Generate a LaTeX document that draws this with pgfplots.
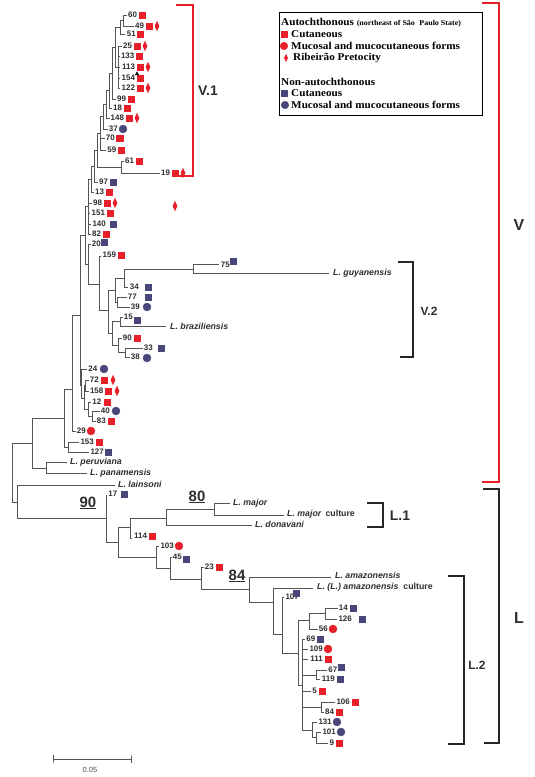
\documentclass[border=0pt]{standalone}
\usepackage{pgfplots}
\pgfplotsset{compat=1.18}
\usepackage{pgfplotstable}
\usepackage{fontspec}
\setmainfont{Liberation Sans}
\newfontfamily\lserif[FakeStretch=1.07]{Liberation Serif}
\definecolor{myred}{RGB}{232,32,42}
\definecolor{navy}{RGB}{72,70,122}
\definecolor{treec}{RGB}{85,85,85}
\definecolor{labc}{RGB}{45,45,45}
\pgfplotsset{
  tree/.style={color=treec, line width=0.9pt, mark=none},
  redbr/.style={color=myred, line width=1.6pt, mark=none},
  blkbr/.style={color=black!85, line width=1.5pt, mark=none},
  rsq/.style={only marks, mark=square*, mark size=3.3pt, color=myred, mark options={draw=myred, fill=myred}},
  rci/.style={only marks, mark=*, mark size=4pt, color=myred, mark options={draw=myred, fill=myred}},
  rdi/.style={only marks, mark=diamond*, mark size=4.6pt, color=myred, mark options={draw=myred, fill=myred, xscale=0.62}},
  nsq/.style={only marks, mark=square*, mark size=3.3pt, color=navy, mark options={draw=navy, fill=navy}},
  nci/.style={only marks, mark=*, mark size=4pt, color=navy, mark options={draw=navy, fill=navy}},
}
\pgfplotstableread{
x y lab
137.2 15 60
144.2 26 49
136 34 51
132.2 46 25
134.5 56 133
135.2 67 113
135.2 78 154
135.2 88 122
126.2 99 99
122.2 108 18
124.2 118 148
118 129 37
115 138 70
116.5 150 59
134.2 161 61
170.2 173 19
108.2 182 97
104.2 192 13
102.2 203 98
105.2 213 151
106 224 140
101.2 234 82
101 244 20
116.2 255 159
230 265 75
139 287 34
137 297 77
140 307 39
133 317 15
132 338 90
153 348 33
140 357 38
97.5 369 24
99 380 72
103.5 391 158
101.5 402 12
110 411 40
106 421 83
86 431 29
94 442 153
104 452 127
117.5 494 17
147.2 536 114
174 546 103
182 557 45
214 567 23
299 597 107
348 608 14
352 619 126
328 629 56
315.5 639 69
323 649 109
323 659 111
337.5 670 67
335 679 119
317 691 5
350 702 106
334.2 712 84
332 722 131
336 732 101
334.2 743 9
}\numlabels
\begin{document}
\begin{tikzpicture}
\begin{axis}[width=535bp,height=777bp,scale only axis,
  xmin=0,xmax=535,ymin=0,ymax=777,y dir=reverse,hide axis,clip=false]
\path (rel axis cs:0,0) rectangle (rel axis cs:1,1);
% ---------------- tree branches ----------------
\addplot[tree] coordinates {(127,15)(123,15)(123,26)(133.5,26)};
\addplot[tree] coordinates {(123,20)(120,20)(120,34)(125,34)};
\addplot[tree] coordinates {(122,46)(118,46)(118,88)(120.3,88)};
\addplot[tree] coordinates {(118,56)(119.5,56)};
\addplot[tree] coordinates {(118,67)(120.3,67)};
\addplot[tree] coordinates {(118,78)(120.3,78)};
\addplot[tree] coordinates {(120,27)(115,27)(115,67)(118,67)};
\addplot[tree] coordinates {(115,47)(112,47)(112,99)(116,99)};
\addplot[tree] coordinates {(112,73)(109,73)(109,108)(111.5,108)};
\addplot[tree] coordinates {(109,90)(106,90)(106,118)(109.5,118)};
\addplot[tree] coordinates {(106,104)(103,104)(103,129)(107.5,129)};
\addplot[tree] coordinates {(103,116)(100,116)(100,150)(106,150)};
\addplot[tree] coordinates {(100,138)(104.5,138)};
\addplot[tree] coordinates {(100,133)(97,133)(97,167)(121,167)};
\addplot[tree] coordinates {(123.8,161)(121,161)(121,173)(160,173)};
\addplot[tree] coordinates {(97,150)(94,150)(94,182)(97.8,182)};
\addplot[tree] coordinates {(94,166)(91,166)(91,192)(93.8,192)};
\addplot[tree] coordinates {(91,179)(88,179)(88,234)(90.8,234)};
\addplot[tree] coordinates {(88,203)(91.8,203)};
\addplot[tree] coordinates {(88,213)(90.3,213)};
\addplot[tree] coordinates {(88,224)(91,224)};
\addplot[tree] coordinates {(88,206)(85,206)(85,264)(88,264)};
\addplot[tree] coordinates {(90.5,244)(88,244)(88,284)(99,284)};
\addplot[tree] coordinates {(101.3,256)(99,256)(99,310)(108,310)};
\addplot[tree] coordinates {(115,290)(108,290)(108,333)(112,333)};
\addplot[tree] coordinates {(124,278)(115,278)(115,302)(117,302)};
\addplot[tree] coordinates {(193,269)(124,269)(124,287)(127.5,287)};
\addplot[tree] coordinates {(219,264)(193,264)(193,273)(329,273)};
\addplot[tree] coordinates {(126.5,297)(117,297)(117,307)(129.5,307)};
\addplot[tree] coordinates {(120,321)(112,321)(112,345)(118,345)};
\addplot[tree] coordinates {(122.5,317)(120,317)(120,326)(166,326)};
\addplot[tree] coordinates {(121.5,338)(118,338)(118,352)(125,352)};
\addplot[tree] coordinates {(142.5,348)(125,348)(125,357)(129.5,357)};
\addplot[tree] coordinates {(85,235)(80,235)(80,385)(81.5,385)};
\addplot[tree] coordinates {(87,369)(81.5,369)(81.5,398)(84,398)};
\addplot[tree] coordinates {(85.5,385)(84,385)(84,409)(88,409)};
\addplot[tree] coordinates {(88.5,380)(85.5,380)(85.5,391)(88.5,391)};
\addplot[tree] coordinates {(91,402)(88,402)(88,416)(92,416)};
\addplot[tree] coordinates {(99.5,411)(92,411)(92,421)(95.5,421)};
\addplot[tree] coordinates {(80,315)(72,315)(72,431)(75.5,431)};
\addplot[tree] coordinates {(72,389)(64,389)(64,447)(68,447)};
\addplot[tree] coordinates {(79,442)(68,442)(68,452)(89,452)};
\addplot[tree] coordinates {(64,418)(32,418)(32,468)(46,468)};
\addplot[tree] coordinates {(67,462)(46,462)(46,473)(87,473)};
\addplot[tree] coordinates {(32,443)(12,443)(12,502)(17,502)};
\addplot[tree] coordinates {(115,485)(17,485)(17,518)(106,518)};
\addplot[tree] coordinates {(107,495)(106,495)(106,542)(118,542)};
\addplot[tree] coordinates {(130,527)(118,527)(118,557)(156,557)};
\addplot[tree] coordinates {(166,518)(130,518)(130,538)(132.3,538)};
\addplot[tree] coordinates {(214,509)(166,509)(166,525)(252,525)};
\addplot[tree] coordinates {(230,503)(214,503)(214,515)(284,515)};
\addplot[tree] coordinates {(159,546)(156,546)(156,568)(170,568)};
\addplot[tree] coordinates {(171.5,557)(170,557)(170,579)(201,579)};
\addplot[tree] coordinates {(203.5,567)(201,567)(201,589)(249,589)};
\addplot[tree] coordinates {(331,577)(249,577)(249,602)(273,602)};
\addplot[tree] coordinates {(313,588)(273,588)(273,634)(282,634)};
\addplot[tree] coordinates {(284,597)(282,597)(282,653)(298,653)};
\addplot[tree] coordinates {(309,620)(298,620)(298,685)(302,685)};
\addplot[tree] coordinates {(325,613)(309,613)(309,629)(317.5,629)};
\addplot[tree] coordinates {(337.5,608)(325,608)(325,619)(337,619)};
\addplot[tree] coordinates {(305,639)(302,639)(302,730)(312,730)};
\addplot[tree] coordinates {(302,649)(308,649)};
\addplot[tree] coordinates {(302,659)(308,659)};
\addplot[tree] coordinates {(302,675)(316,675)};
\addplot[tree] coordinates {(302,691)(311,691)};
\addplot[tree] coordinates {(302,707)(321,707)};
\addplot[tree] coordinates {(327,670)(316,670)(316,679)(320,679)};
\addplot[tree] coordinates {(335,702)(321,702)(321,712)(323.8,712)};
\addplot[tree] coordinates {(317,722)(312,722)(312,737)(316,737)};
\addplot[tree] coordinates {(321,732)(316,732)(316,743)(328,743)};
% ---------------- leaf numbers ----------------
\addplot[draw=none, mark=none, nodes near coords, point meta=explicit symbolic,
  nodes near coords style={anchor=east, inner sep=0pt, font=\fontsize{8}{9}\selectfont\bfseries, text=labc}]
  table[x=x,y=y,meta=lab] {\numlabels};
% ---------------- species names ----------------
\addplot[draw=none, mark=none, nodes near coords, point meta=explicit symbolic,
  nodes near coords style={anchor=west, inner sep=0pt, font=\fontsize{8.8}{10}\selectfont\bfseries\itshape, text=labc}]
  coordinates {(333,273) [L. guyanensis] (170,326) [L. braziliensis] (70,462) [L. peruviana]
  (90,473) [L. panamensis] (118,484) [L. lainsoni] (233,503) [L. major] (255,524) [L. donavani]
  (335,575) [L. amazonensis]};
\node[anchor=west, inner sep=0pt, text=labc, font=\fontsize{8.8}{10}\selectfont\bfseries] at (axis cs:287,514) {\textit{L. major}\, culture};
\node[anchor=west, inner sep=0pt, text=labc, font=\fontsize{8.8}{10}\selectfont\bfseries] at (axis cs:317,587) {\textit{L. (L.) amazonensis}\; culture};
% ---------------- markers ----------------
\addplot[rsq] coordinates {(142,15)(149,26)(140,34)(137,46)(139,56)(140,67)(140,78)(140,88)(131,99)(127,108)(129,118)(119.5,138)(121,150)(139,161)(175,173)(109,192)(107,203)(110,213)(106,234)(121,255)(137,338)(104,380)(108,391)(107,402)(111,421)(99,442)(152,536)(219,567)(328,659)(322,691)(355,702)(339,712)(339,743)};
\addplot[rdi] coordinates {(157,26)(145,46)(148,67)(148,88)(137,118)(183,173)(115,203)(175,206)(113,380)(117,391)};
\addplot[rci] coordinates {(91,431)(179,546)(333,629)(328,649)};
\addplot[nsq] coordinates {(113,182)(113,224)(104,242)(233,261)(148,287)(148,297)(137,320)(161,348)(108,452)(124,494)(186,559)(296,593)(353,608)(362,619)(320,639)(341,667)(340,679)};
\addplot[nci] coordinates {(123,129)(147,307)(147,358)(104,369)(116,411)(337,722)(341,732)};
\addplot[only marks, mark=triangle*, mark size=2pt, color=black] coordinates {(137,74)};
% ---------------- brackets ----------------
\addplot[redbr] coordinates {(176,5)(193,5)(193,176)(176,176)};
\addplot[redbr] coordinates {(482,3)(499,3)(499,482)(482,482)};
\addplot[blkbr] coordinates {(483,489)(499,489)(499,743)(484,743)};
\addplot[blkbr, line width=1.1pt] coordinates {(398,262)(413,262)(413,357)(400,357)};
\addplot[blkbr, line width=1.1pt] coordinates {(367,503)(383,503)(383,527)(367,527)};
\addplot[blkbr, line width=1.2pt] coordinates {(448,576)(464,576)(464,744)(448,744)};
\node[font=\fontsize{14}{16}\selectfont\bfseries, text=labc] at (axis cs:208,91) {V.1};
\node[font=\fontsize{12}{14}\selectfont\bfseries, text=labc] at (axis cs:429,311) {V.2};
\node[font=\fontsize{16}{18}\selectfont\bfseries, text=labc] at (axis cs:519,225) {V};
\node[font=\fontsize{16}{18}\selectfont\bfseries, text=labc] at (axis cs:519,618) {L};
\node[font=\fontsize{14}{16}\selectfont\bfseries, text=labc] at (axis cs:400,516) {L.1};
\node[font=\fontsize{12}{14}\selectfont\bfseries, text=labc] at (axis cs:477,665) {L.2};
% ---------------- support values ----------------
\node[font=\fontsize{15}{17}\selectfont\bfseries, text=labc] at (axis cs:88,503) {\underline{90}};
\node[font=\fontsize{15}{17}\selectfont\bfseries, text=labc] at (axis cs:197,497) {\underline{80}};
\node[font=\fontsize{15}{17}\selectfont\bfseries, text=labc] at (axis cs:237,576) {\underline{84}};
% ---------------- scale bar ----------------
\addplot[tree, line width=0.8pt] coordinates {(53,755)(53,763)(53,759)(131,759)(131,755)(131,763)};
\node[font=\fontsize{7.5}{9}\selectfont, text=black!70] at (axis cs:90,770) {0.05};
% ---------------- legend ----------------
\addplot[color=black, line width=0.8pt, mark=none] coordinates {(279,12)(482,12)(482,115)(279,115)(279,12)};
\node[anchor=west, inner sep=0pt, font=\lserif\fontsize{10.5}{12}\selectfont\bfseries] at (axis cs:281,23) {Autochthonous {\fontsize{7.5}{9}\selectfont (northeast of São\,\, Paulo State)}};
\addplot[rsq, mark size=3pt] coordinates {(284,34)};
\addplot[rci, mark size=3.8pt] coordinates {(284,46)};
\addplot[rdi, mark size=3.6pt] coordinates {(286,58)};
\addplot[nsq, mark size=3pt] coordinates {(284,93)};
\addplot[nci, mark size=3.8pt] coordinates {(285,105)};
\node[anchor=west, inner sep=0pt, font=\lserif\fontsize{10.5}{12}\selectfont\bfseries] at (axis cs:291,34) {Cutaneous};
\node[anchor=west, inner sep=0pt, font=\lserif\fontsize{10.5}{12}\selectfont\bfseries] at (axis cs:291,46) {Mucosal and mucocutaneous forms};
\node[anchor=west, inner sep=0pt, font=\lserif\fontsize{10.5}{12}\selectfont\bfseries] at (axis cs:293,58) {Ribeirão Pretocity};
\node[anchor=west, inner sep=0pt, font=\lserif\fontsize{10.5}{12}\selectfont\bfseries] at (axis cs:281,82) {Non-autochthonous};
\node[anchor=west, inner sep=0pt, font=\lserif\fontsize{10.5}{12}\selectfont\bfseries] at (axis cs:291,93) {Cutaneous};
\node[anchor=west, inner sep=0pt, font=\lserif\fontsize{10.5}{12}\selectfont\bfseries] at (axis cs:291,105) {Mucosal and mucocutaneous forms};
\end{axis}
\end{tikzpicture}
\end{document}
